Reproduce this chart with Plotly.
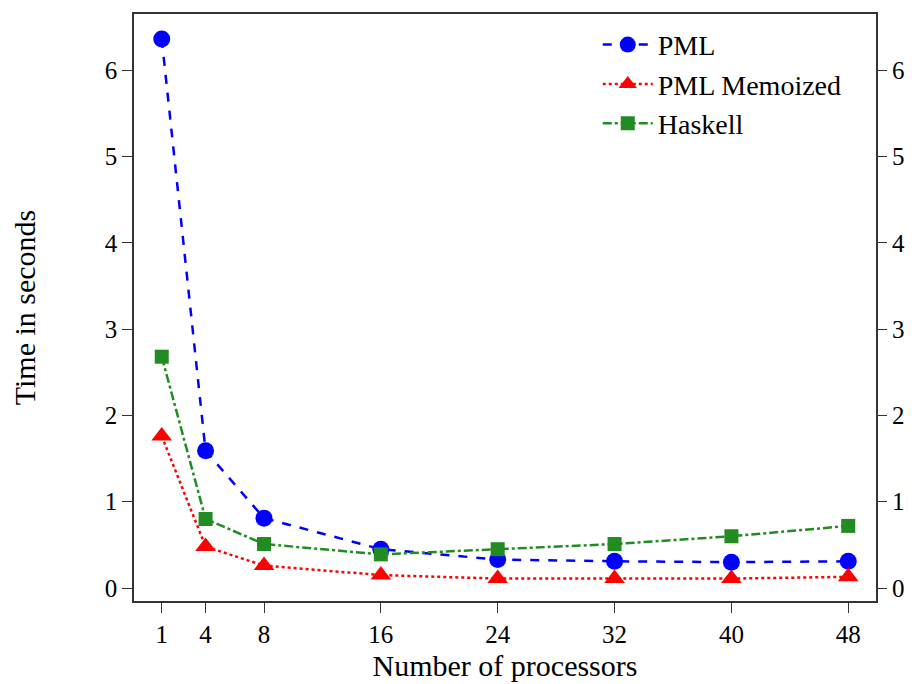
import plotly.graph_objects as go

processors = [1, 4, 8, 16, 24, 32, 40, 48]
pml = [6.36, 1.59, 0.81, 0.45, 0.33, 0.31, 0.30, 0.31]
pml_memo = [1.76, 0.48, 0.26, 0.15, 0.11, 0.11, 0.11, 0.13]
haskell = [2.68, 0.80, 0.51, 0.39, 0.45, 0.51, 0.60, 0.72]
x_ticks = [1, 4, 8, 16, 24, 32, 40, 48]
y_ticks = [0, 1, 2, 3, 4, 5, 6]

FONT = "'Liberation Serif', 'Times New Roman', Times, serif"
fig = go.Figure()
fig.add_trace(go.Scatter(x=processors, y=pml, name="PML", mode="lines+markers",
                         line=dict(color="blue", dash="dash", width=2.5),
                         marker=dict(symbol="circle", size=17, color="blue")))
fig.add_trace(go.Scatter(x=processors, y=pml_memo, name="PML Memoized", mode="lines+markers",
                         line=dict(color="red", dash="dot", width=2.5),
                         marker=dict(symbol="triangle-up", size=18, color="red")))
fig.add_trace(go.Scatter(x=processors, y=haskell, name="Haskell", mode="lines+markers",
                         line=dict(color="forestgreen", dash="dashdot", width=2.5),
                         marker=dict(symbol="square", size=14, color="forestgreen")))
# invisible trace to activate right axis
fig.add_trace(go.Scatter(x=processors, y=pml, yaxis="y2", mode="markers",
                         marker=dict(opacity=0), showlegend=False, hoverinfo="skip"))

tf = dict(family=FONT, size=25, color="black")
yr = [-0.15, 6.65]
fig.update_layout(
    width=914, height=684,
    margin=dict(l=134, r=38, t=14, b=83, autoexpand=False),
    paper_bgcolor="white", plot_bgcolor="white",
    font=dict(family=FONT, size=25, color="black"),
    showlegend=True,
    legend=dict(x=0.625, y=0.99, xanchor="left", yanchor="top",
                bgcolor="rgba(0,0,0,0)", font=dict(family=FONT, size=28, color="black"),
                itemwidth=50, tracegroupgap=0),
    xaxis=dict(range=[-0.9, 49.9], tickvals=x_ticks, ticktext=[str(v) for v in x_ticks],
               showgrid=False, zeroline=False, showline=True, linecolor="#333", linewidth=1.5,
               mirror=True, ticks="outside", ticklen=10, tickcolor="#333", automargin=False,
               tickfont=tf,
               title=dict(text="Number of processors", font=dict(family=FONT, size=30), standoff=8)),
    yaxis=dict(range=yr, tickvals=y_ticks, showgrid=False, zeroline=False,
               showline=True, linecolor="#333", linewidth=1.5, mirror=True,
               ticks="outside", ticklen=10, tickcolor="#333", automargin=False,
               tickfont=tf,
               title=dict(text="Time in seconds", font=dict(family=FONT, size=30), standoff=60)),
    yaxis2=dict(range=yr, tickvals=y_ticks, overlaying="y", side="right",
                showgrid=False, zeroline=False, showline=False, automargin=False,
                ticks="outside", ticklen=10, tickcolor="#333", tickfont=tf),
)
fig.write_html("out.html")
